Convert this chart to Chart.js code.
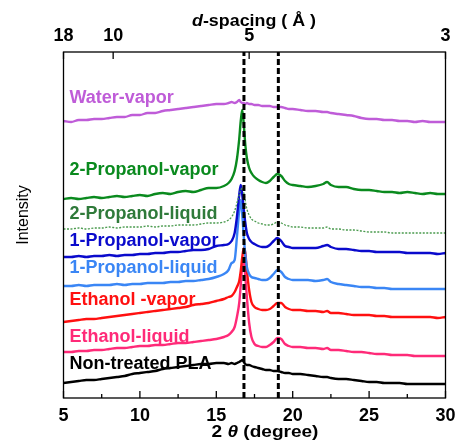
<!DOCTYPE html>
<html>
<head>
<meta charset="utf-8">
<script src="https://cdn.jsdelivr.net/npm/chart.js@4/dist/chart.umd.min.js"></script>
<style>
  html, body { margin: 0; padding: 0; background: #fff; }
  #wrap { width: 458px; height: 441px; position: relative; }
</style>
</head>
<body>
<div id="wrap"><canvas id="xrd"></canvas></div>
<script>
// 2θ sampling grid (degree), denser across the main PLA reflections
const twoTheta = [5,5.5,6,6.5,7,7.5,8,8.5,9,9.5,10,10.5,11,11.5,12,12.5,13,13.5,14,14.5,15,15.5,
  15.8,16.0,16.2,16.35,16.5,16.6,16.7,16.8,16.9,17.0,17.15,17.3,17.5,17.75,18,18.25,18.5,18.75,19,19.25,19.5,19.75,20,
  20.5,21,21.5,22,22.25,22.5,23,23.5,24,24.5,25,25.5,26,26.5,27,27.5,28,28.5,29,29.5,30];

// Offset intensity traces (a.u.), one per sample
const waterVapor = [274,273,275,275,276,276,277,278,278,280,280,282,282,284,285,286,287,288,289,290,291,291,
  292,293,292,293,295,293,292,292,291,292,291,291,290,290,289,289,289,288,288,288,287,286,286,
  285,284,284,283,283,282,281,280,279,277,276,276,275,275,274,274,273,274,273,273,273];
const propanol2Vapor = [196,197,196,197,198,197,198,199,198,199,200,199,201,202,201,203,204,203,205,207,207,209,
  212,216,224,236,256,274,285,270,250,237,227,222,218,215,213,212,214,218,221,219,214,211,210,
  209,208,209,211,213,210,208,208,206,205,205,204,203,203,202,203,202,201,202,201,201];
const propanol2Liquid = [166,166,167,166,167,167,168,167,168,168,168,169,168,169,169,170,170,170,171,172,172,173,
  175,178,184,192,200,205,207,202,194,186,180,176,174,172,171,170,170,171,173,172,170,169,168,
  168,167,167,167,168,166,166,165,165,164,163,163,163,162,162,162,162,162,162,162,162];
const propanol1Vapor = [138,138,139,138,139,139,140,139,140,140,141,141,142,142,143,143,144,145,145,146,149,150,
  151,154,162,178,200,210,200,185,172,162,156,153,151,149,148,148,150,154,157,154,149,148,147,
  147,147,147,149,150,148,146,146,145,144,144,143,143,143,143,142,142,142,142,141,142];
const propanol1Liquid = [109,109,110,109,110,110,110,111,110,111,111,112,112,112,113,113,114,114,115,116,118,121,
  125,132,135,158,185,195,180,158,140,128,121,118,117,116,115,115,117,121,125,123,118,116,115,
  115,115,114,115,116,113,111,110,109,108,108,107,107,106,106,106,106,106,106,106,106];
const ethanolVapor = [73,74,75,76,76,77,78,79,80,81,82,83,84,85,86,87,88,90,91,92,94,96,
  98,99,103,108,114,124,138,147,142,125,105,93,88,86,85,85,86,89,92,92,88,86,85,
  85,84,84,83,84,82,82,81,80,80,80,79,79,78,78,78,78,78,78,77,78];
const ethanolLiquid = [43,43,44,44,45,45,46,47,47,48,49,49,50,50,51,52,52,53,54,55,56,58,
  60,63,68,78,92,110,130,137,118,98,72,58,51,49,48,48,50,53,57,56,51,49,48,
  48,47,47,46,47,45,45,44,43,43,42,41,41,40,40,40,39,39,39,39,39];
const nonTreated = [12,13,14,15,15,16,17,18,19,21,22,23,24,26,27,28,29,30,31,31,32,32,
  31,32,31,32,33,34,35,33,31,30,30,29,28,27,26,25,25,24,24,23,22,22,21,
  21,20,19,18,18,17,16,16,15,14,13,13,12,12,12,11,11,11,11,11,11];

// Reference reflections marked with dashed lines (2θ)
const refPeaks = [16.81, 19.06];

// Upper axis: d-spacing labels and the 2θ positions they sit at
const dSpacingLabels = ['18', '10', '5', '3'];
const dSpacingAt = [5, 8.25, 17.15, 30];

const seriesNames = ['Water-vapor', '2-Propanol-vapor', '2-Propanol-liquid', '1-Propanol-vapor',
  '1-Propanol-liquid', 'Ethanol -vapor', 'Ethanol-liquid', 'Non-treated PLA'];
const seriesValues = [waterVapor, propanol2Vapor, propanol2Liquid, propanol1Vapor,
  propanol1Liquid, ethanolVapor, ethanolLiquid, nonTreated];

const lineColors = ['#BF5CD8', '#0A8A1E', '#4A9A4E', '#0A0ACC', '#3A86F5', '#FF1010', '#FF2A78', '#000000'];
const textColors = ['#BF5CD8', '#0A8A1E', '#2F7A3A', '#0A0ACC', '#3A86F5', '#FF1010', '#FF2A78', '#000000'];
// label baseline height above each trace start (px)
const labelLift = [18, 24, 10, 11, 13, 17, 10, 14];

const FONT = '"Liberation Sans", Arial, sans-serif';

const datasets = seriesValues.map((vals, i) => ({
  label: seriesNames[i],
  data: twoTheta.map((t, k) => ({ x: t, y: vals[k] })),
  borderColor: lineColors[i],
  borderWidth: i === 2 ? 1.3 : 2.4,
  borderDash: i === 2 ? [2, 1.5] : [],
  pointRadius: 0,
  cubicInterpolationMode: 'monotone',
  order: 2,
  xAxisID: 'x',
  yAxisID: 'y'
}));
refPeaks.forEach(p => datasets.push({
  label: 'ref ' + p,
  data: [{ x: p, y: -3 }, { x: p, y: 343 }],
  borderColor: '#000',
  borderWidth: 3,
  borderDash: [6, 3],
  pointRadius: 0,
  order: 0,
  xAxisID: 'x',
  yAxisID: 'y'
}));

// centred run of differently styled text, slightly widened
function drawMixed(ctx, parts, cx, y, sx) {
  let total = 0;
  parts.forEach(p => { ctx.font = p.font; p.w = ctx.measureText(p.t).width; total += p.w; });
  ctx.save();
  ctx.translate(cx, y);
  ctx.scale(sx, 1);
  let x = -total / 2;
  ctx.textAlign = 'left';
  ctx.textBaseline = 'alphabetic';
  parts.forEach(p => { ctx.font = p.font; ctx.fillText(p.t, x, 0); x += p.w; });
  ctx.restore();
}

const framePlugin = {
  id: 'frame',
  afterDraw(chart) {
    const { ctx, chartArea: a, scales } = chart;
    ctx.save();
    ctx.strokeStyle = '#000';
    ctx.lineWidth = 1.3;
    ctx.strokeRect(a.left, a.top, a.right - a.left, a.bottom - a.top);
    // inward ticks, bottom axis
    scales.x.ticks.forEach(t => {
      const px = scales.x.getPixelForValue(t.value);
      const len = (t.value % 5 === 0) ? 7 : 4;
      ctx.beginPath(); ctx.moveTo(px, a.bottom); ctx.lineTo(px, a.bottom - len); ctx.stroke();
    });
    // inward ticks, top axis
    scales.xTop.ticks.forEach(t => {
      const px = scales.xTop.getPixelForValue(t.value);
      ctx.beginPath(); ctx.moveTo(px, a.top); ctx.lineTo(px, a.top + 7); ctx.stroke();
    });
    ctx.fillStyle = '#000';
    // axis titles
    drawMixed(ctx, [
      { t: '2 ', font: 'bold 17px ' + FONT },
      { t: 'θ', font: 'italic bold 17px ' + FONT },
      { t: ' (degree)', font: 'bold 17px ' + FONT }
    ], 265, 437, 1.12);
    drawMixed(ctx, [
      { t: 'd', font: 'italic bold 17px ' + FONT },
      { t: '-spacing ( Å )', font: 'bold 17px ' + FONT }
    ], 254, 26, 1.05);
    ctx.save();
    ctx.translate(28, 215);
    ctx.rotate(-Math.PI / 2);
    ctx.font = '16px ' + FONT;
    ctx.textAlign = 'center';
    ctx.textBaseline = 'alphabetic';
    ctx.fillText('Intensity', 0, 0);
    ctx.restore();
    // series labels
    ctx.font = 'bold 18px ' + FONT;
    ctx.textAlign = 'left';
    ctx.textBaseline = 'alphabetic';
    seriesNames.forEach((name, i) => {
      ctx.fillStyle = textColors[i];
      const y0 = scales.y.getPixelForValue(seriesValues[i][0]);
      ctx.fillText(name, a.left + 6, y0 - labelLift[i]);
    });
    ctx.restore();
  }
};

const noSidePad = s => { s.paddingLeft = 0; s.paddingRight = 0; };

new Chart(document.getElementById('xrd'), {
  type: 'line',
  data: { datasets },
  options: {
    responsive: true,
    maintainAspectRatio: false,
    animation: false,
    layout: { padding: { left: 0, right: 12.5, top: 0, bottom: 0 } },
    plugins: { legend: { display: false }, tooltip: { enabled: false } },
    scales: {
      x: {
        type: 'linear', position: 'bottom', min: 5, max: 30,
        grid: { display: false, drawTicks: false },
        border: { display: false },
        ticks: {
          stepSize: 2.5, autoSkip: false, maxRotation: 0, padding: 7,
          color: '#000', font: { family: FONT, size: 18, weight: 'bold' },
          callback: v => (v % 5 === 0 ? String(v) : '')
        },
        afterFit: s => { s.height = 43; noSidePad(s); }
      },
      xTop: {
        type: 'linear', position: 'top', min: 5, max: 30,
        grid: { display: false, drawTicks: false },
        border: { display: false },
        afterBuildTicks: s => { s.ticks = dSpacingAt.map(v => ({ value: v })); },
        ticks: {
          autoSkip: false, maxRotation: 0, padding: 5,
          color: '#000', font: { family: FONT, size: 18, weight: 'bold' },
          callback: (v, i) => dSpacingLabels[i]
        },
        afterFit: s => { s.height = 52; noSidePad(s); }
      },
      y: {
        type: 'linear', min: -3, max: 343,
        grid: { display: false, drawTicks: false },
        border: { display: false },
        ticks: { display: false },
        afterFit: s => { s.width = 63.5; }
      }
    }
  },
  plugins: [framePlugin]
});
</script>
</body>
</html>
